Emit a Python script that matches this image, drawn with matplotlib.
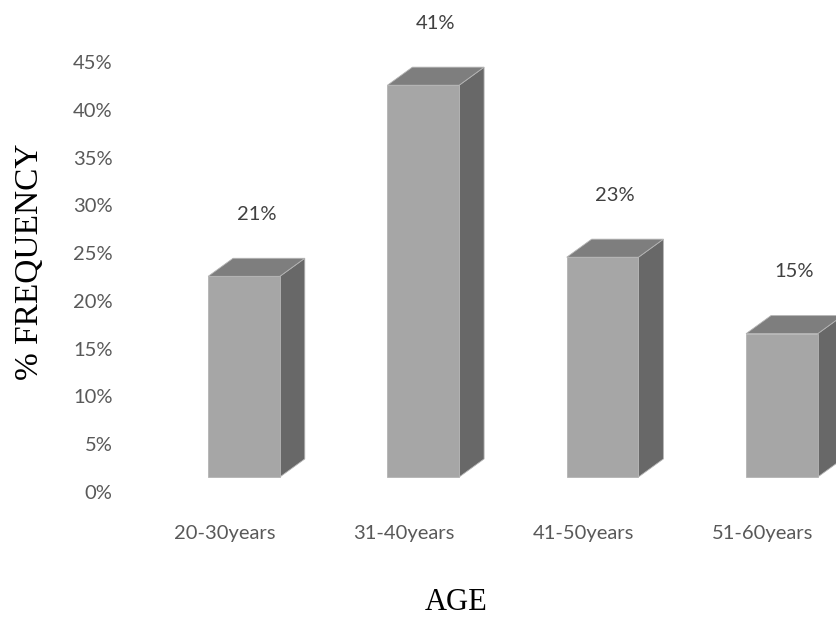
import numpy as np
import matplotlib.pyplot as plt
from matplotlib.patches import Polygon

# Age distribution of respondents
categories = ["20-30years", "31-40years", "41-50years", "51-60years"]
frequency = [21, 41, 23, 15]          # percent
value_labels = ["21%", "41%", "23%", "15%"]
yticks = [0, 5, 10, 15, 20, 25, 30, 35, 40, 45]

# pseudo-3D column geometry (data units)
bar_w = 0.40      # front face width
depth_x = 0.139   # receding offset in x
depth_y = 1.89    # receding offset in y (%)
floor = 1.57      # front faces start a little above the 0% line

front_c = "#a6a6a6"
top_c = "#7e7e7e"
side_c = "#686868"

fig = plt.figure(figsize=(8.37, 6.17), dpi=100)
ax = fig.add_axes([125 / 837, 125 / 617, 712 / 837, 430 / 617])
ax.set_xlim(-0.6637, 3.3073)
ax.set_ylim(0, 45)

x = np.arange(len(categories))
for xi, v in zip(x, frequency):
    x0, x1 = xi - bar_w / 2, xi + bar_w / 2
    y0, y1 = floor, floor + v
    side = [(x1, y0), (x1 + depth_x, y0 + depth_y), (x1 + depth_x, y1 + depth_y), (x1, y1)]
    top = [(x0, y1), (x1, y1), (x1 + depth_x, y1 + depth_y), (x0 + depth_x, y1 + depth_y)]
    front = [(x0, y0), (x1, y0), (x1, y1), (x0, y1)]
    for pts, c in ((side, side_c), (top, top_c), (front, front_c)):
        ax.add_patch(Polygon(pts, closed=True, facecolor=c, edgecolor="#b4b4b4",
                             lw=0.6, clip_on=False, zorder=2))

for xi, v, lab in zip(x, frequency, value_labels):
    ax.text(xi + depth_x / 2, floor + v + depth_y + 4.6, lab, ha="center", va="center",
            fontsize=14.5, family="Lato", color="#404040")

for s in ax.spines.values():
    s.set_visible(False)

ax.set_yticks(yticks)
ax.set_yticklabels([f"{t}%" for t in yticks])
ax.set_xticks(x - 0.106)
ax.set_xticklabels(categories)
ax.tick_params(axis="y", length=0, pad=9, labelsize=14.5, labelcolor="#595959")
ax.tick_params(axis="x", length=0, pad=24, labelsize=14.5, labelcolor="#595959")
for t in ax.get_xticklabels() + ax.get_yticklabels():
    t.set_family("Lato")

fig.text(456 / 837, 1 - 603 / 617, "AGE", ha="center", va="center",
         fontsize=22, family="Liberation Serif", color="black")
fig.text(30 / 837, 1 - 262 / 617, "% FREQUENCY", ha="center", va="center",
         rotation=90, fontsize=24, family="Liberation Serif", color="black")

fig.savefig("out.png", dpi=100)
